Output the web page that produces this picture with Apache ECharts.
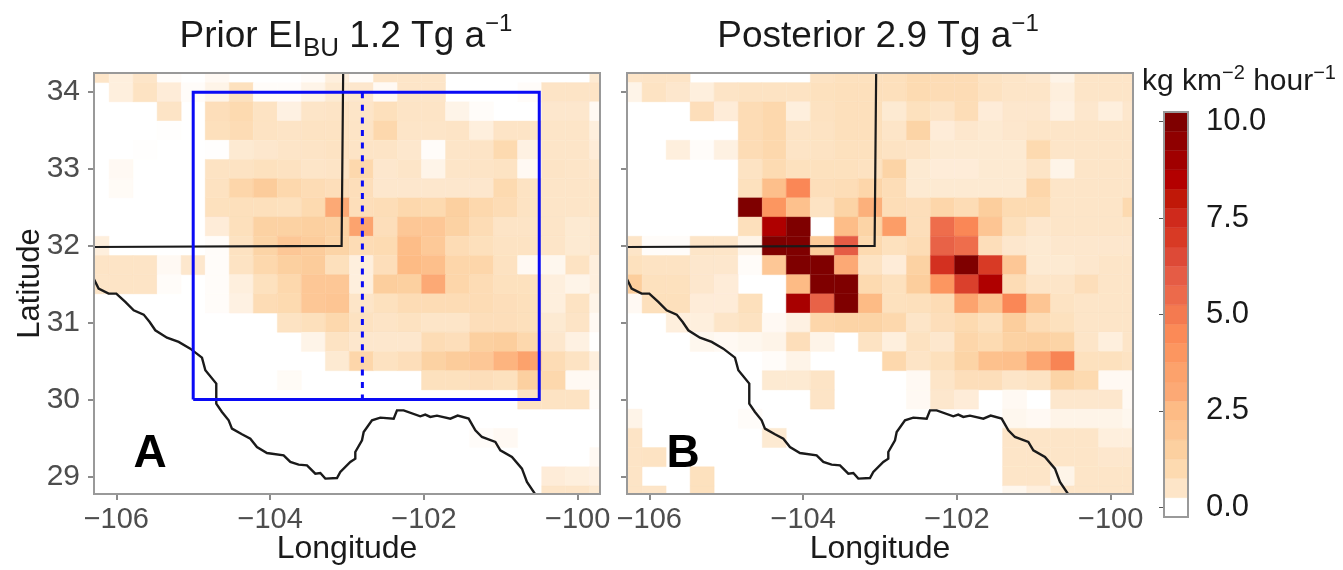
<!DOCTYPE html>
<html>
<head>
<meta charset="utf-8">
<style>
  html, body { margin: 0; padding: 0; background: #fff; }
  #chart { width: 1343px; height: 570px; }
</style>
</head>
<body>
<div id="chart"></div>
<script src="https://cdn.jsdelivr.net/npm/echarts@6/dist/echarts.min.js"></script>
<script>
// cell centres, degrees
const lons = [-106.25, -105.9375, -105.625, -105.3125, -105, -104.6875, -104.375, -104.0625, -103.75, -103.4375, -103.125,
    -102.8125, -102.5, -102.1875, -101.875, -101.5625, -101.25, -100.9375, -100.625, -100.3125, -100, -99.6875];
const lats = [34.25, 34, 33.75, 33.5, 33.25, 33, 32.75, 32.5, 32.25, 32, 31.75, 31.5,
    31.25, 31, 30.75, 30.5, 30.25, 30, 29.75, 29.5, 29.25, 29, 28.75];

// emissions, one list per latitude row, kg km-2 hour-1
const priorValues = [
    [.5,.3,.5,.05,0,.1,0,0,0,.05,.3,.05,.5,.5,.5,0,0,0,0,0,0,.4],
    [0,.3,.6,.35,.05,.2,.7,.05,.05,.2,.4,.45,.1,.5,.5,0,0,0,.05,.55,.55,.55],
    [0,0,0,.55,0,.8,1,.6,.25,.5,.55,.5,.75,.55,.55,.2,.05,0,0,.45,.45,.1],
    [0,0,0,.02,0,.75,.9,.6,.55,.6,.6,.55,1.1,.5,.5,.55,.3,.55,.55,.5,.5,.3],
    [0,0,.02,0,0,.02,.4,.45,.5,.55,.6,.55,.55,.45,.05,.5,.55,1,.25,.5,.5,.35],
    [0,.1,0,0,0,.6,.6,.7,.65,.5,.55,1.1,.45,.5,.2,.5,.55,.6,.1,.55,.5,.45],
    [0,.08,0,0,0,.65,1.2,1.7,1.1,.9,.8,.8,.45,.45,.45,.45,.45,1,.6,.5,.5,.5],
    [0,0,0,0,0,.7,.75,.75,.7,1,3,.8,.85,1.1,1,1.5,1.1,.9,.6,.5,.5,.5],
    [0,0,0,0,0,.35,.75,1.4,1.4,1.5,1.4,3.4,.8,1.9,1.9,1.4,.9,.55,.55,.5,.4,.45],
    [.3,0,0,0,0,.05,.65,1.3,1.9,1.7,1.3,.9,.95,2.4,1.8,.9,.75,.6,.6,.5,.4,.45],
    [.55,.55,.55,.1,.45,.05,.6,1.1,1.5,1.7,.75,.3,.8,2.5,2.3,1.2,1.2,.65,.1,.15,.6,.3],
    [.5,.55,.55,.05,0,.05,.3,.7,1.1,1.9,1.9,.3,1.6,1.5,3,1.2,.9,.7,.7,.3,.2,.3],
    [0,0,0,0,0,.05,.25,.9,1,1.9,2,.5,.7,.9,.9,.9,.9,.8,.75,.3,.6,.2],
    [0,0,0,0,0,0,0,0,.6,.75,1.1,.65,.55,.65,.5,.5,.8,.8,.75,.4,.55,.1],
    [0,0,0,0,0,0,0,0,0,.2,.6,.45,.45,.45,.9,.8,1.5,1.6,1.1,.45,.25,.02],
    [0,0,0,0,0,0,0,0,0,0,.4,1.2,.65,.8,1.4,1.7,1.9,2.7,3.5,.9,.6,.3],
    [0,0,0,0,0,0,0,0,.08,0,0,0,0,0,.7,.7,.8,.7,1.5,1.1,.1,.1],
    [0,0,0,0,0,0,0,0,0,0,0,0,0,0,0,0,0,0,.6,.6,.6,.05],
    [0,0,0,0,0,0,0,0,0,0,0,0,0,0,0,0,0,0,0,0,0,0],
    [0,0,0,0,0,0,0,0,0,0,0,0,0,0,0,0,.05,.1,0,0,0,0],
    [0,0,0,0,0,0,0,0,0,0,0,0,0,0,0,0,0,0,0,0,0,.1],
    [0,0,0,0,0,0,0,0,0,0,0,0,0,0,0,0,0,0,0,.35,.3,.25],
    [0,0,0,0,0,0,0,0,0,0,0,0,0,0,0,0,0,0,0,.5,.5,.4]
];
const posteriorValues = [
    [.5,.55,.55,0,0,0,0,0,.6,.7,.7,.75,.95,.9,.9,.6,.5,.45,.2,.5,.5,.5],
    [.2,.6,.45,.3,.55,.6,.6,.6,.7,.75,.75,.75,.95,.9,.9,.65,.5,.5,.3,.5,.5,.5],
    [0,0,0,.8,.35,.9,1.1,.3,.65,.75,.75,.4,.7,.55,.85,.35,.45,.45,.25,.45,.3,.45],
    [0,0,0,0,0,.9,1.1,.55,.6,.75,.75,.5,1.3,.35,.45,.4,.45,.5,.5,.5,.5,.5],
    [0,0,.3,.05,.25,.9,1.1,.55,.6,.7,.7,.6,.55,.4,.4,.4,.4,1,.5,.5,.5,.5],
    [0,0,0,0,0,.6,.95,.7,.7,.7,.65,1.3,.4,.35,.35,.4,.4,.55,.2,.5,.5,.5],
    [0,0,0,0,0,.7,2.3,4.6,.8,.85,1.2,.85,.4,.4,.4,.4,.4,1.2,.5,.5,.5,.5],
    [0,0,0,0,0,10,4,2.2,.6,1.3,2.8,.85,.8,1.2,.9,1.6,.95,.95,.5,.5,.5,1],
    [0,0,0,0,0,.75,8.6,10,0,2.4,1.3,3.7,.8,5.4,4.6,2,.75,.45,.5,.5,.5,.5],
    [.5,.05,.05,.5,.5,.2,10,10,1.7,6,1,.7,.9,5.8,5.4,.8,.45,.4,.45,.45,.45,.45],
    [.7,.6,.6,.45,.45,.05,1.9,10,10,3,.6,.35,1.4,7.3,10,7,1.9,.4,.4,.45,.5,.5],
    [1.6,.7,.7,.45,.35,0,0,2.5,10,10,1,.7,1.6,4,6.8,8.6,.9,.5,.5,.8,.5,.5],
    [.1,.75,.75,.35,.35,.75,0,8.8,5.8,10,2.5,.7,.75,.9,3.4,2.2,4.6,2,.6,.5,.5,.5],
    [0,0,.3,.3,.5,.65,.1,.25,1.2,1.3,1.3,1.1,.5,.8,1,.75,1.6,.9,.7,.5,.5,.5],
    [0,0,0,.15,.1,.15,.2,.8,.2,0,.6,.3,.65,.45,1.2,.95,1.4,1.5,1.3,.5,.3,.5],
    [0,0,0,0,0,0,.05,.2,0,0,0,1.1,.55,.75,1.3,2.2,2.3,3.2,4.7,.7,.7,.6],
    [0,0,0,0,0,0,.4,.4,.55,0,0,0,.1,.5,.8,.8,.5,.6,1.3,1,.1,.1],
    [0,0,0,0,0,0,0,0,.55,0,0,0,.1,.45,.35,0,.1,0,.45,.45,.45,.1],
    [.2,0,0,0,0,.05,0,0,0,0,0,0,0,0,0,0,.15,.1,.2,.2,.2,.15],
    [.55,0,0,0,0,0,.4,0,0,0,0,0,0,0,0,0,.5,.5,.5,.5,.3,.3],
    [.55,.6,0,0,0,0,0,0,0,0,0,0,0,0,0,0,.5,.5,.5,.5,.45,.45],
    [.55,0,0,.7,0,0,0,0,0,0,0,0,0,0,0,0,.5,.5,.2,.5,.5,.5],
    [.55,.5,0,.7,0,0,0,0,0,0,0,0,0,0,0,0,.15,.3,.5,.5,.5,.5]
];

// Rio Grande, [lon, lat]
const river = [[-106.29,31.565],[-106.23,31.443],[-106.1,31.378],[-106,31.378],[-105.883,31.27],[-105.774,31.161],
    [-105.644,31.105],[-105.566,31.009],[-105.493,30.901],[-105.341,30.805],[-105.189,30.749],[-105.038,30.662],
    [-104.886,30.545],[-104.842,30.38],[-104.7,30.207],[-104.7,29.946],[-104.626,29.838],[-104.539,29.729],
    [-104.496,29.621],[-104.366,29.547],[-104.257,29.49],[-104.171,29.382],[-104.041,29.304],[-103.824,29.273],
    [-103.737,29.187],[-103.629,29.152],[-103.52,29.143],[-103.412,29.035],[-103.347,29.043],[-103.282,28.97],
    [-103.13,28.978],[-103.087,29.056],[-102.957,29.187],[-102.892,29.23],[-102.892,29.317],[-102.805,29.469],
    [-102.783,29.577],[-102.675,29.729],[-102.567,29.764],[-102.393,29.751],[-102.35,29.859],[-102.263,29.859],
    [-102.047,29.781],[-101.982,29.803],[-101.917,29.773],[-101.83,29.79],[-101.656,29.751],[-101.561,29.79],
    [-101.418,29.751],[-101.331,29.599],[-101.245,29.512],[-101.071,29.447],[-101.006,29.338],[-100.855,29.252],
    [-100.725,29.1],[-100.66,28.926],[-100.551,28.765]];
// NM / TX border
const stateLine = [[-106.29,31.985],[-103.07,32],[-103.05,34.25]];
// inversion domain
const boxLine = [[-105,30],[-100.5,30],[-100.5,34],[-105,34],[-105,30]];
const splitLine = [[-102.8,34],[-102.8,30]];

const lonTicks = [-106, -104, -102, -100];
const latTicks = [29, 30, 31, 32, 33, 34];
const barTicks = [0, 2.5, 5, 7.5, 10];
const barBands = [0,.5,1,1.5,2,2.5,3,3.5,4,4.5,5,5.5,6,6.5,7,7.5,8,8.5,9,9.5,10];

const colorVals = [0,.25,.5,1,1.5,2,2.5,3,3.5,4,4.5,5,5.5,6,6.5,7,7.5,8,8.5,9,9.5,10];
const colorHex = ["#ffffff","#fef1e2","#fde5c8","#fddab0","#fcd0a0","#fdc593","#fdbb85","#fca975","#fca26c","#fc9660","#fb8a57",
    "#f47a50","#ec6a4b","#e55c45","#dd4a37","#d83a25","#cf2a1c","#c01808","#b30000","#a00000","#8f0000","#7f0000"];

function cellColor(v) {
    let i = 0;
    while (i < colorVals.length - 2 && v > colorVals[i + 1]) i++;
    const t = (v - colorVals[i]) / (colorVals[i + 1] - colorVals[i]);
    return echarts.color.lerp(t, [colorHex[i], colorHex[i + 1]]);
}

function cells(values) {
    const out = [];
    values.forEach(function (row, r) {
        row.forEach(function (v, c) {
            if (v > 0) out.push([lons[c], lats[r], v]);
        });
    });
    return out;
}

// one grid cell, clipped to the panel
function renderCell(params, api) {
    const lon = api.value(0), lat = api.value(1), v = api.value(2);
    const a = api.coord([lon - 0.15625, lat + 0.125]);
    const b = api.coord([lon + 0.15625, lat - 0.125]);
    const rect = echarts.graphic.clipRectByRect(
        { x: a[0], y: a[1], width: b[0] - a[0], height: b[1] - a[1] },
        params.coordSys
    );
    if (!rect) return;
    return { type: "rect", shape: rect, style: { fill: cellColor(v), stroke: cellColor(v), lineWidth: 0.4 } };
}

function renderBand(params, api) {
    const v = api.value(1);
    const a = api.coord([0, v + 0.25]);
    const b = api.coord([1, v - 0.25]);
    const rect = echarts.graphic.clipRectByRect(
        { x: a[0], y: a[1], width: b[0] - a[0], height: b[1] - a[1] },
        params.coordSys
    );
    // the lowest band of the bar is white up to 0.25
    return { type: "rect", shape: rect, style: { fill: cellColor(v), stroke: cellColor(v), lineWidth: 0.4 } };
}

const fontName = "Liberation Sans";
const tickGrey = "#4d4d4d";
const frameGrey = "#999999";
// outerBoundsMode none: keep the grids where they are, v6 shrinks them otherwise
const panels = [
    { left: 94, top: 73, width: 506, height: 421, outerBoundsMode: "none" },
    { left: 627, top: 73, width: 506, height: 421, outerBoundsMode: "none" }
];
const barGrid = { left: 1164, top: 112, width: 24, height: 405, outerBoundsMode: "none" };

function lineSeries(idx, data, color, width, type, name) {
    return {
        type: "line", name: name, xAxisIndex: idx, yAxisIndex: idx, data: data,
        showSymbol: false, silent: true, z: 5,
        lineStyle: { color: color, width: width, type: type, cap: "butt", join: "miter" }
    };
}

function lonAxis(idx) {
    return {
        type: "value", gridIndex: idx, min: -106.29, max: -99.71,
        name: "Longitude", nameLocation: "middle", nameGap: 39, nameMoveOverlap: false,
        nameTextStyle: { fontFamily: fontName, fontSize: 32, color: "#1a1a1a" },
        axisLine: { show: false },
        splitLine: { show: false },
        axisTick: { show: true, length: 6, customValues: lonTicks, lineStyle: { color: "#666", width: 1.5 } },
        axisLabel: {
            customValues: lonTicks, margin: 11, fontFamily: fontName, fontSize: 29, color: tickGrey,
            formatter: function (v) { return String(v).replace("-", "\u2212"); }
        }
    };
}

function latAxis(idx, showLabels) {
    return {
        type: "value", gridIndex: idx, min: 28.77, max: 34.25,
        name: showLabels ? "Latitude" : "", nameLocation: "middle", nameGap: 48, nameMoveOverlap: false,
        nameTextStyle: { fontFamily: fontName, fontSize: 31, color: "#1a1a1a" },
        axisLine: { show: false },
        splitLine: { show: false },
        axisTick: { show: true, length: 6, customValues: latTicks, lineStyle: { color: "#666", width: 1.5 } },
        axisLabel: {
            show: showLabels, customValues: latTicks, margin: 14,
            fontFamily: fontName, fontSize: 30, color: tickGrey
        }
    };
}

function titleText(cx, cy, text, rich) {
    return { type: "text", x: cx, y: cy, z: 20, style: { text: text, rich: rich, align: "center", verticalAlign: "middle", fontFamily: fontName } };
}

const titleRich = {
    b: { fontFamily: fontName, fontSize: 37, lineHeight: 50, verticalAlign: "middle", fill: "#1a1a1a", color: "#1a1a1a" },
    s: { fontFamily: fontName, fontSize: 26, lineHeight: 26, verticalAlign: "bottom", fill: "#1a1a1a", color: "#1a1a1a" },
    u: { fontFamily: fontName, fontSize: 24, lineHeight: 24, verticalAlign: "top", fill: "#1a1a1a", color: "#1a1a1a" }
};
const unitRich = {
    b: { fontFamily: fontName, fontSize: 30, lineHeight: 38, verticalAlign: "middle", fill: "#1a1a1a", color: "#1a1a1a" },
    u: { fontFamily: fontName, fontSize: 20, lineHeight: 20, verticalAlign: "top", fill: "#1a1a1a", color: "#1a1a1a" }
};

function frame(g) {
    return { type: "rect", z: 15, silent: true, shape: { x: g.left, y: g.top, width: g.width, height: g.height },
        style: { fill: "none", stroke: frameGrey, lineWidth: 2 } };
}

function panelLetter(x, y, s) {
    return { type: "text", x: x, y: y, z: 20, style: { text: s, align: "center", verticalAlign: "middle",
        fontFamily: fontName, fontWeight: "bold", fontSize: 46, fill: "#000" } };
}

const myChart = echarts.init(document.getElementById("chart"));
myChart.setOption({
    animation: false,
    backgroundColor: "#fff",
    grid: [panels[0], panels[1], barGrid],
    xAxis: [
        lonAxis(0),
        lonAxis(1),
        { type: "value", gridIndex: 2, min: 0, max: 1, show: false }
    ],
    yAxis: [
        latAxis(0, true),
        latAxis(1, false),
        {
            type: "value", gridIndex: 2, min: -0.25, max: 10.25, position: "right",
            axisLine: { show: false }, splitLine: { show: false },
            axisTick: { show: true, inside: true, length: 5, customValues: barTicks, lineStyle: { color: "#555", width: 1 } },
            axisLabel: {
                customValues: barTicks, margin: 18, fontFamily: fontName, fontSize: 31, color: "#1a1a1a",
                formatter: function (v) { return v.toFixed(1); }
            }
        },
        {
            type: "value", gridIndex: 2, min: -0.25, max: 10.25, position: "left",
            axisLine: { show: false }, splitLine: { show: false },
            axisTick: { show: true, inside: true, length: 5, customValues: barTicks, lineStyle: { color: "#555", width: 1 } },
            axisLabel: { show: false }
        }
    ],
    series: [
        { type: "custom", name: "Prior", xAxisIndex: 0, yAxisIndex: 0, renderItem: renderCell, data: cells(priorValues), encode: { x: 0, y: 1 }, silent: true, z: 2 },
        { type: "custom", name: "Posterior", xAxisIndex: 1, yAxisIndex: 1, renderItem: renderCell, data: cells(posteriorValues), encode: { x: 0, y: 1 }, silent: true, z: 2 },
        lineSeries(0, river, "#1a1a1a", 2.4, "solid", "river"),
        lineSeries(1, river, "#1a1a1a", 2.4, "solid", "river"),
        lineSeries(0, stateLine, "#1a1a1a", 2.2, "solid", "border"),
        lineSeries(1, stateLine, "#1a1a1a", 2.2, "solid", "border"),
        lineSeries(0, boxLine, "#0a0af5", 3, "solid", "domain"),
        lineSeries(0, splitLine, "#0a0af5", 3, [6, 6.6], "split"),
        {
            type: "custom", name: "colorbar", xAxisIndex: 2, yAxisIndex: 2, renderItem: renderBand,
            data: barBands.map(function (v) { return [0.5, v]; }), encode: { x: 0, y: 1 }, silent: true, z: 2
        }
    ],
    graphic: [
        frame(panels[0]),
        frame(panels[1]),
        frame(barGrid),
        titleText(346, 37, "{b|Prior EI}{s|BU}{b| 1.2 Tg a}{u|\u22121}", titleRich),
        titleText(878, 37, "{b|Posterior 2.9 Tg a}{u|\u22121}", titleRich),
        titleText(1239, 82, "{b|kg km}{u|\u22122}{b| hour}{u|\u22121}", unitRich),
        panelLetter(150, 454, "A"),
        panelLetter(683, 454, "B")
    ]
});
window.addEventListener("resize", function () {
    myChart.resize();
});
</script>
</body>
</html>
